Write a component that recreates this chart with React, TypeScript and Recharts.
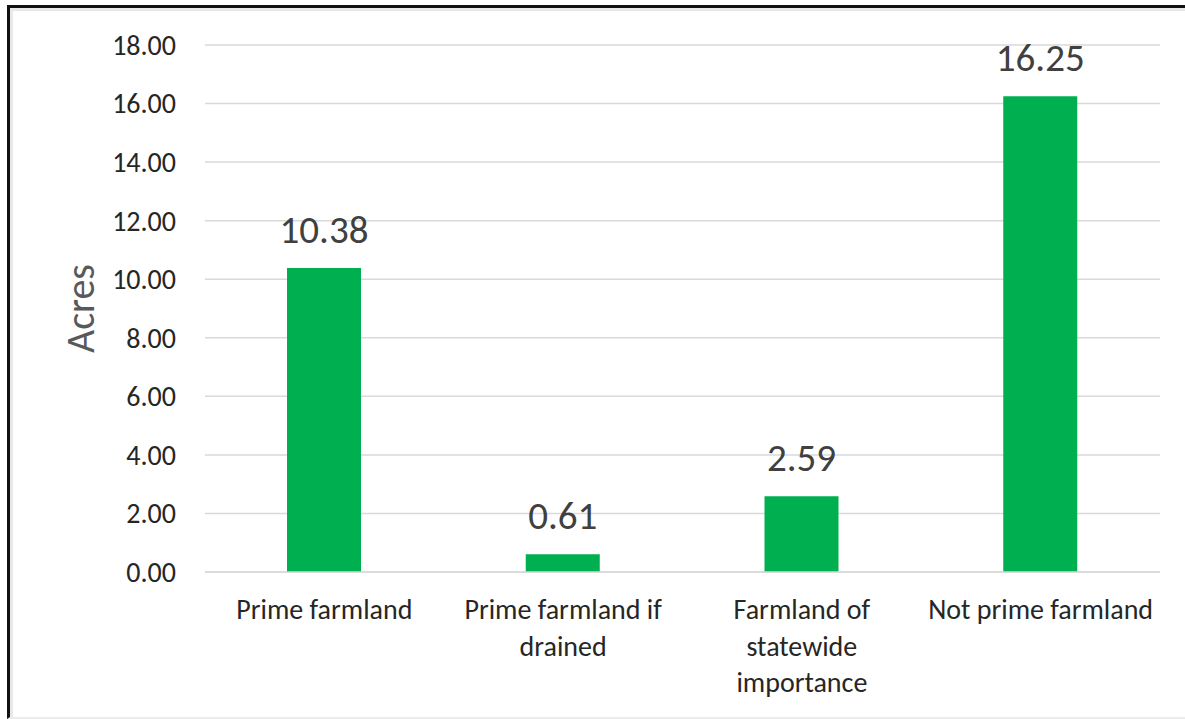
import React from 'react';
import { BarChart, Bar, XAxis, YAxis, CartesianGrid, LabelList, Label } from 'recharts';

const categories = ['Prime farmland', 'Prime farmland if drained', 'Farmland of statewide importance', 'Not prime farmland'];
const categoryLines = [['Prime farmland'], ['Prime farmland if', 'drained'], ['Farmland of', 'statewide', 'importance'], ['Not prime farmland']];
const acres = [10.38, 0.61, 2.59, 16.25];
const yTicks = [0, 2, 4, 6, 8, 10, 12, 14, 16, 18];

const data = categories.map((name, i) => ({ name, acres: acres[i] }));

const FONT = 'Carlito, Calibri, Lato, sans-serif';

// wrapped category labels, like the spreadsheet does it
const CategoryTick = (props: any) => {
  const { x, y, payload } = props;
  const lines = categoryLines[payload.index] || [payload.value];
  return (
    <text x={x} y={y} textAnchor="middle" fill="#262626" fontSize={28} fontFamily={FONT}>
      {lines.map((line: string, i: number) => (
        <tspan key={i} x={x} dy={i === 0 ? 47 : 36.5}>{line}</tspan>
      ))}
    </text>
  );
};

const App: React.FC = () => {
  return (
    <div style={{ position: 'absolute', left: 0, top: 0, width: 1185, height: 719, background: '#fff' }}>
      <div style={{
        position: 'absolute', left: 7, top: 5, width: 1178, height: 714,
        borderLeft: '3px solid #111', borderTop: '3px solid #111', borderBottom: '2px solid #ececec',
        boxShadow: 'inset 3px 3px 0 #e8e8e8', boxSizing: 'border-box'
      }} />
      <div style={{ position: 'absolute', left: 0, top: 0 }}>
        <BarChart width={1185} height={719} data={data} margin={{ top: 45, right: 25, bottom: 0, left: 0 }}>
          <CartesianGrid vertical={false} stroke="#d9d9d9" strokeWidth={1.5} />
          <XAxis dataKey="name" axisLine={{ stroke: '#d9d9d9', strokeWidth: 1.5 }} tickLine={false} tickSize={0} tickMargin={0}
            interval={0} tick={<CategoryTick />} height={147} />
          <YAxis width={205} domain={[0, 18]} ticks={yTicks} axisLine={false} tickLine={false} tickSize={0} tickMargin={29}
            tickFormatter={(v: number) => v.toFixed(2)} tick={{ fill: '#262626', fontSize: 28, fontFamily: FONT }}>
            <Label value="Acres" angle={-90} position="insideLeft" offset={80} style={{ fill: '#595959', fontSize: 40, fontFamily: FONT, textAnchor: 'middle' }} />
          </YAxis>
          <Bar dataKey="acres" fill="#00b050" barSize={74} isAnimationActive={false}>
            <LabelList dataKey="acres" position="top" offset={25} fill="#404040" fontSize={39} fontFamily={FONT}
              formatter={(v: any) => Number(v).toFixed(2)} />
          </Bar>
        </BarChart>
      </div>
    </div>
  );
};

export default App;
